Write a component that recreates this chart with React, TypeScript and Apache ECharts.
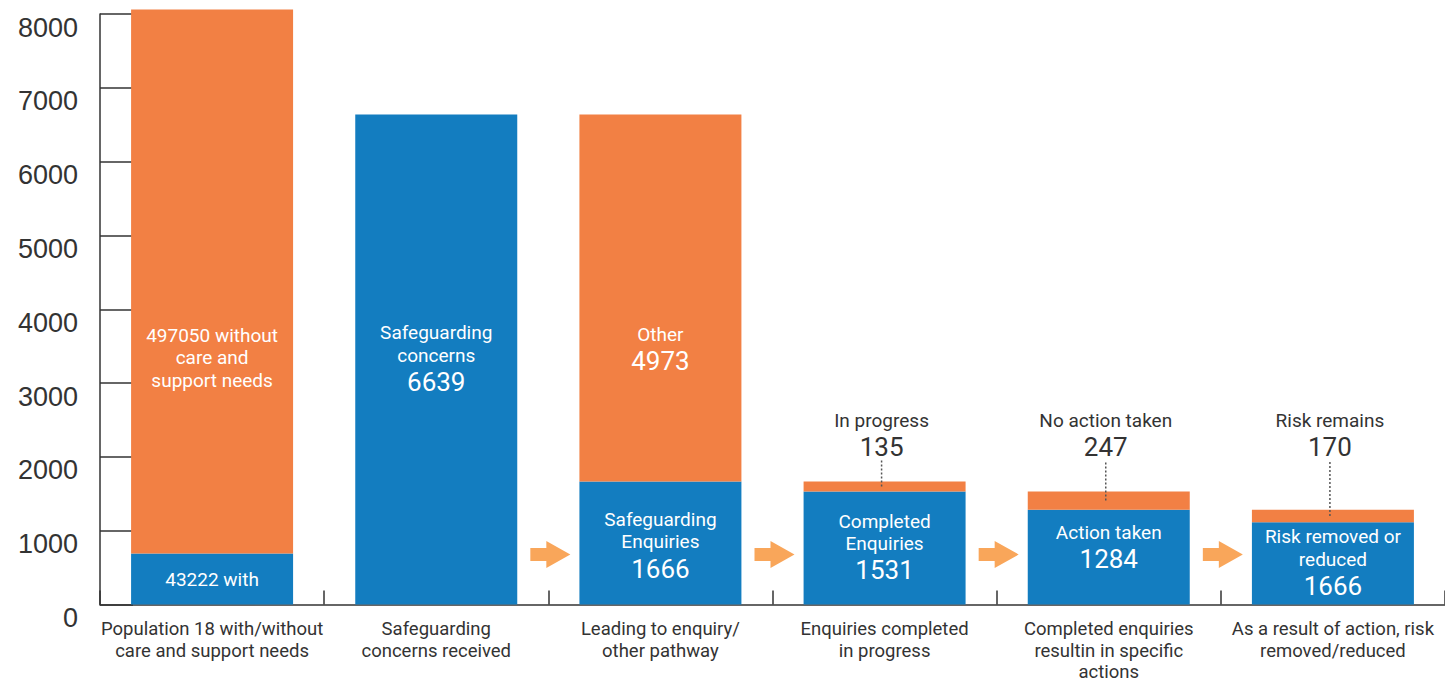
import React, { useEffect, useRef } from "react";
import * as echarts from "echarts";

const categories = [
  "Population 18 with/without\ncare and support needs",
  "Safeguarding\nconcerns received",
  "Leading to enquiry/\nother pathway",
  "Enquiries completed\nin progress",
  "Completed enquiries\nresultin in specific\nactions",
  "As a result of action, risk\nremoved/reduced",
];
const yTicks = [0, 1000, 2000, 3000, 4000, 5000, 6000, 7000, 8000];
const withValues = [690, 6639, 1666, 1531, 1284, 1114];
const otherValues = [7370, 0, 4973, 135, 247, 170];

const insideTitles = [
  ["43222 with"],
  ["Safeguarding", "concerns"],
  ["Safeguarding", "Enquiries"],
  ["Completed", "Enquiries"],
  ["Action taken"],
  ["Risk removed or", "reduced"],
];
const insideNumbers = ["", "6639", "1666", "1531", "1284", "1666"];
const insideOffsets = [0, 0, 3, 0, -9, 0];
const otherTitles = [["497050 without", "care and", "support needs"], [], ["Other"], [], [], []];
const otherNumbers = ["", "", "4973", "", "", ""];
const otherOffsets = [76, 0, 52, 0, 0, 0];

const calloutIndex = [3, 4, 5];
const calloutTitles = ["In progress", "No action taken", "Risk remains"];
const calloutNumbers = ["135", "247", "170"];
const calloutLevel = 2140;
const arrowIndex = [2, 3, 4, 5];

const BLUE = "#137DC0";
const ORANGE = "#F28044";
const ARROW = "#F9A65A";
const TEXT = "#333333";
const FONT = "Roboto";

function richText(titles: string[], num: string) {
  const parts = titles.map((t) => `{t|${t}}`);
  if (num) parts.push(`{n|${num}}`);
  return parts.join("\n");
}

const rich = {
  t: { fontSize: 19, lineHeight: 22.5, color: "#ffffff", fontFamily: FONT },
  n: { fontSize: 26, lineHeight: 31, color: "#ffffff", fontFamily: FONT },
};

export default function App() {
  const ref = useRef<HTMLDivElement>(null);
  useEffect(() => {
    if (!ref.current) return;
    const chart = echarts.init(ref.current, undefined, { renderer: "svg" });
    const option: any = {
      animation: false,
      grid: { left: 100, right: 0, top: 14, bottom: 75, containLabel: false },
      xAxis: {
        type: "category",
        data: categories,
        boundaryGap: true,
        axisLine: { show: true, lineStyle: { color: TEXT, width: 1.5 } },
        axisTick: { show: true, inside: true, length: 14, lineStyle: { color: TEXT, width: 1.5 } },
        axisLabel: {
          color: TEXT,
          fontSize: 18.5,
          lineHeight: 21.5,
          fontFamily: FONT,
          margin: 14,
          interval: 0,
        },
      },
      yAxis: {
        type: "value",
        min: yTicks[0],
        max: yTicks[yTicks.length - 1],
        interval: 1000,
        splitLine: { show: false },
        axisLine: { show: true, lineStyle: { color: TEXT, width: 1.5 } },
        axisTick: { show: true, inside: true, length: 33, lineStyle: { color: TEXT, width: 1.5 } },
        axisLabel: {
          color: TEXT,
          fontSize: 27,
          fontFamily: "Liberation Sans",
          margin: 22,
          verticalAlign: "top",
          formatter: (v: number) => String(v),
        },
      },
      series: [
        {
          name: "with",
          type: "bar",
          stack: "s",
          barWidth: 162,
          clip: false,
          itemStyle: { color: BLUE },
          data: withValues.map((v, i) => ({
            value: v,
            label: {
              show: true,
              position: "inside",
              offset: [0, insideOffsets[i]],
              formatter: richText(insideTitles[i], insideNumbers[i]),
              rich,
            },
          })),
        },
        {
          name: "other",
          type: "bar",
          stack: "s",
          barWidth: 162,
          clip: false,
          itemStyle: { color: ORANGE },
          data: otherValues.map((v, i) => ({
            value: v,
            label: {
              show: otherTitles[i].length > 0,
              position: "inside",
              offset: [0, otherOffsets[i]],
              formatter: richText(otherTitles[i], otherNumbers[i]),
              rich,
            },
          })),
        },
        {
          name: "arrows",
          type: "custom",
          z: 10,
          clip: false,
          data: arrowIndex.map((i) => [i, 0]),
          renderItem: (params: any, api: any) => {
            const c = api.coord([api.value(0), 0]);
            const bw = api.size([1, 0])[0];
            const x = c[0] - bw / 2;
            const y = c[1] - 50;
            return {
              type: "polygon",
              shape: {
                points: [
                  [x - 18, y - 6.5],
                  [x - 2, y - 6.5],
                  [x - 2, y - 13.5],
                  [x + 22, y],
                  [x - 2, y + 13.5],
                  [x - 2, y + 6.5],
                  [x - 18, y + 6.5],
                ],
              },
              style: { fill: ARROW },
            };
          },
        },
        {
          name: "callouts",
          type: "custom",
          z: 10,
          clip: false,
          data: calloutIndex.map((i, k) => [i, withValues[i] + otherValues[i], otherValues[i], k]),
          renderItem: (params: any, api: any) => {
            const idx = api.value(0);
            const total = api.value(1);
            const part = api.value(2);
            const k = api.value(3);
            const mid = api.coord([idx, total - part / 2]);
            const lvl = api.coord([idx, calloutLevel]);
            const x = mid[0] - 3;
            return {
              type: "group",
              children: [
                {
                  type: "line",
                  shape: { x1: x, y1: mid[1], x2: x, y2: lvl[1] + 14 },
                  style: { stroke: "#555555", lineWidth: 1.5, lineDash: [2, 2] },
                },
                {
                  type: "text",
                  style: {
                    text: calloutNumbers[k],
                    x: x,
                    y: lvl[1],
                    align: "center",
                    verticalAlign: "middle",
                    fontSize: 26,
                    fontFamily: FONT,
                    fill: TEXT,
                  },
                },
                {
                  type: "text",
                  style: {
                    text: calloutTitles[k],
                    x: x,
                    y: lvl[1] - 26,
                    align: "center",
                    verticalAlign: "middle",
                    fontSize: 19,
                    fontFamily: FONT,
                    fill: TEXT,
                  },
                },
              ],
            };
          },
        },
      ],
    };
    chart.setOption(option);
    return () => chart.dispose();
  }, []);
  return (
    <div
      ref={ref}
      style={{ position: "fixed", left: 0, top: 0, width: 1445, height: 683, background: "#ffffff" }}
    />
  );
}
